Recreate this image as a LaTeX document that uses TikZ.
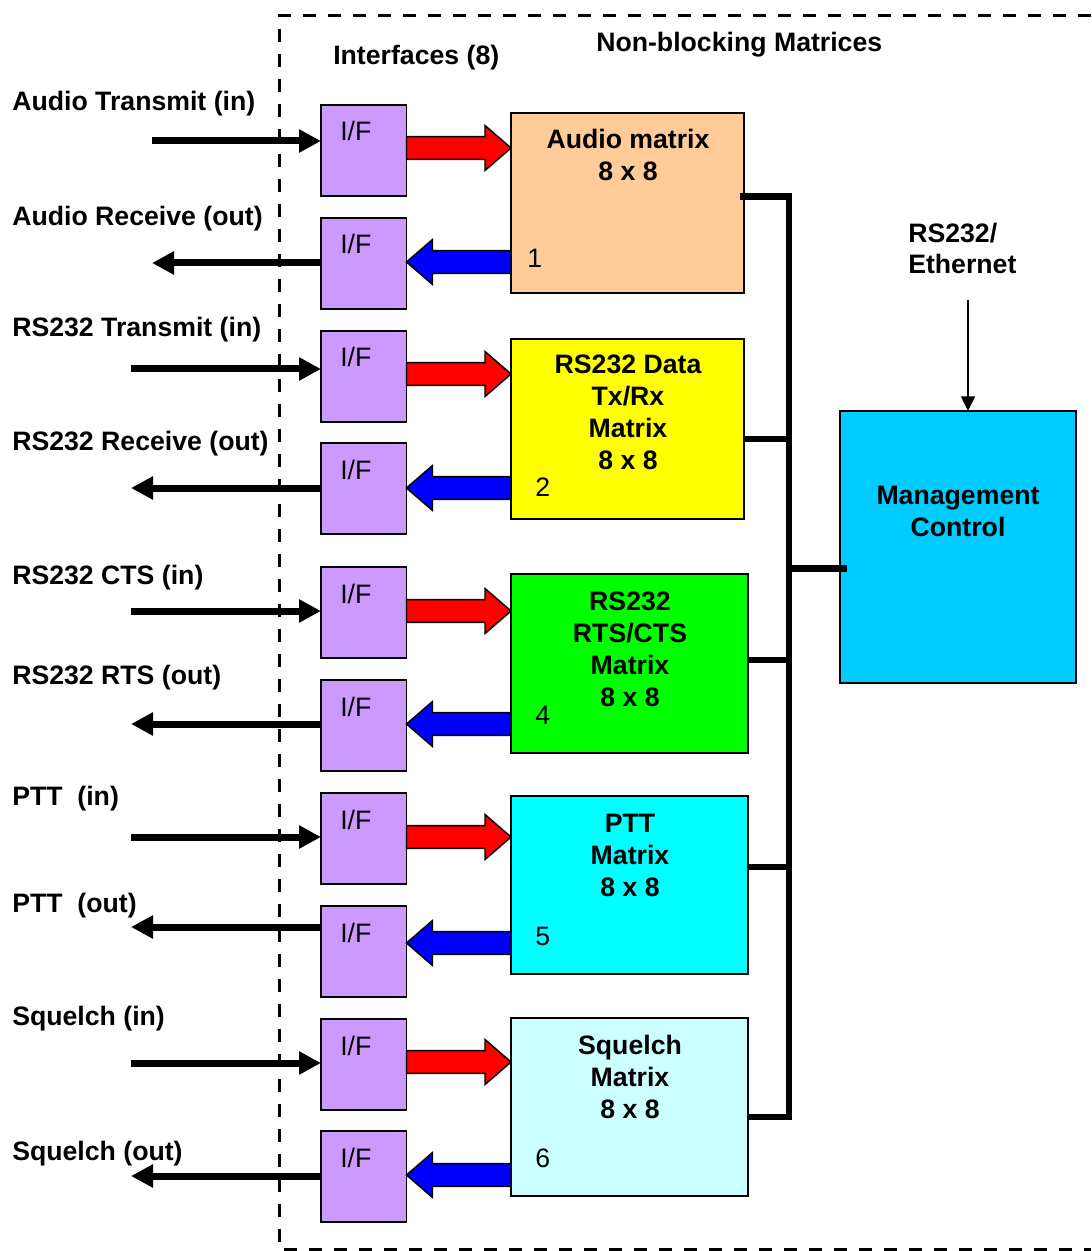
\documentclass[tikz,border=0pt]{standalone}
\usepackage{fontspec}
\setmainfont{Liberation Sans}
\usetikzlibrary{arrows.meta,calc}

\definecolor{ifpurple}{HTML}{CC99FF}
\definecolor{audiopeach}{HTML}{FFCC99}
\definecolor{datayellow}{HTML}{FFFF00}
\definecolor{ctsgreen}{HTML}{00FF00}
\definecolor{pttcyan}{HTML}{00FFFF}
\definecolor{sqlcyan}{HTML}{CCFFFF}
\definecolor{mgmtblue}{HTML}{00CCFF}
\definecolor{flowred}{HTML}{FF0000}
\definecolor{flowblue}{HTML}{0000FF}

% wide block arrow between two points (tip takes the y of the tail)
\newcommand{\bigflow}[3]{%
  \filldraw[flowline, fill=#3] let \p1=(#1), \p2=(#2), \n1={sign(\x2-\x1)} in
    (\x2,\y1) -- ({\x2-\n1*19.5pt},{\y1+16.875pt}) -- ({\x2-\n1*19.5pt},{\y1+8.5pt})
    -- (\x1,{\y1+8.5pt}) -- (\x1,{\y1-8.5pt}) -- ({\x2-\n1*19.5pt},{\y1-8.5pt})
    -- ({\x2-\n1*19.5pt},{\y1-16.875pt}) -- cycle;}

\begin{document}
\begin{tikzpicture}[x=0.75pt,y=-0.75pt,
  box/.style={draw=black, line width=1.1pt, inner sep=0pt, outer sep=0pt},
  ifbox/.style={box, fill=ifpurple, minimum width=85.5*0.75pt, minimum height=91*0.75pt},
  mbox/.style={box, minimum width=#1*0.75pt},
  lab/.style={font=\bfseries\fontsize{20}{24}\selectfont, inner sep=0pt},
  reg/.style={font=\fontsize{20}{24}\selectfont, inner sep=0pt},
  mtext/.style={lab, align=center, anchor=base},
  flowline/.style={draw=black, line width=1.1pt, line join=miter},
  sig/.style={line width=5.25pt, -{Triangle[length=16.5pt,width=16.5pt]}},
  feed/.style={line width=1.1pt, -{Triangle[length=11pt,width=10.5pt]}},
  bus/.style={line width=4.9pt, line join=miter},
  frame/.style={line width=2.5pt, dash pattern=on 9.75pt off 9pt}]

\useasboundingbox (0,0) rectangle (1091,1251);

% outer dashed boundary
\draw[frame] (1091,15.5) -- (279.5,15.5) -- (279.5,1249.5) -- (1091,1249.5);

% headings
\node[lab, anchor=base west] (hdmat) at (596,51.5) {Non-blocking Matrices};
\node[lab, anchor=base west] (hdif) at (333,65) {Interfaces (8)};

% interface blocks
\foreach \i/\yy in {1/150.5,2/263.5,3/376.5,4/488.5,5/612.5,6/725.5,7/838.5,8/951.5,9/1064.5,10/1176.5}{
  \node[ifbox] (if\i) at (363.75,\yy) {};
  \node[reg, anchor=base west] (ift\i) at ($(if\i.north west)+(19,36)$) {I/F};
}

% matrices
\node[mbox=233, minimum height=180*0.75pt, fill=audiopeach] (m1) at (627.5,203) {};
\node[mbox=233, minimum height=180*0.75pt, fill=datayellow] (m2) at (627.5,429) {};
\node[mbox=237, minimum height=179*0.75pt, fill=ctsgreen] (m3) at (629.5,663.5) {};
\node[mbox=237, minimum height=178*0.75pt, fill=pttcyan] (m4) at (629.5,885) {};
\node[mbox=237, minimum height=178*0.75pt, fill=sqlcyan] (m5) at (629.5,1107) {};
\node[mbox=236, minimum height=272*0.75pt, fill=mgmtblue] (mgmt) at (958,547) {};

% block titles (base anchor sits on the last line)
\node[mtext] (m1t) at (628,180.5) {Audio matrix\\8 x 8};
\node[mtext] (m2t) at (628,469) {RS232 Data\\Tx/Rx\\Matrix\\8 x 8};
\node[mtext] (m3t) at (630,706.5) {RS232\\RTS/CTS\\Matrix\\8 x 8};
\node[mtext] (m4t) at (630,896.5) {PTT\\Matrix\\8 x 8};
\node[mtext] (m5t) at (630,1118.5) {Squelch\\Matrix\\8 x 8};
\node[mtext] (mgt) at (958,536.5) {Management\\Control};

\node[reg, anchor=base west] (n1) at (527,267.5) {1};
\node[reg, anchor=base west] (n2) at (535,496) {2};
\node[reg, anchor=base west] (n4) at (535,724.5) {4};
\node[reg, anchor=base west] (n5) at (535,945.5) {5};
\node[reg, anchor=base west] (n6) at (535,1167) {6};

% external signal labels
\node[lab, anchor=base west] (l1) at (12,111) {Audio Transmit (in)};
\node[lab, anchor=base west] (l2) at (12,226) {Audio Receive (out)};
\node[lab, anchor=base west] (l3) at (12,337) {RS232 Transmit (in)};
\node[lab, anchor=base west] (l4) at (12,450) {RS232 Receive (out)};
\node[lab, anchor=base west] (l5) at (12,584) {RS232 CTS (in)};
\node[lab, anchor=base west] (l6) at (12,684) {RS232 RTS (out)};
\node[lab, anchor=base west] (l7) at (12,805) {PTT\ \ (in)};
\node[lab, anchor=base west] (l8) at (12,912) {PTT\ \ (out)};
\node[lab, anchor=base west] (l9) at (12,1025) {Squelch (in)};
\node[lab, anchor=base west] (l10) at (12,1160) {Squelch (out)};

% external signal arrows
\coordinate (in1) at (152,141);
\coordinate (in2) at (131,369);
\coordinate (in3) at (131,611);
\coordinate (in4) at (131,837);
\coordinate (in5) at (131,1063);
\coordinate (out1) at (152,263);
\coordinate (out2) at (131,488);
\coordinate (out3) at (131,724);
\coordinate (out4) at (131,927);
\coordinate (out5) at (131,1176);

\draw[sig] (in1) -- (if1.west |- in1);
\draw[sig] (in2) -- (if3.west |- in2);
\draw[sig] (in3) -- (if5.west |- in3);
\draw[sig] (in4) -- (if7.west |- in4);
\draw[sig] (in5) -- (if9.west |- in5);
\draw[sig] (if2.west |- out1) -- (out1);
\draw[sig] (if4.west |- out2) -- (out2);
\draw[sig] (if6.west |- out3) -- (out3);
\draw[sig] (if8.west |- out4) -- (out4);
\draw[sig] (if10.west |- out5) -- (out5);

% interface <-> matrix flows
\coordinate (rf1) at (0,148);  \coordinate (bf1) at (0,262);
\coordinate (rf2) at (0,374);  \coordinate (bf2) at (0,488);
\coordinate (rf3) at (0,611);  \coordinate (bf3) at (0,724);
\coordinate (rf4) at (0,837);  \coordinate (bf4) at (0,943);
\coordinate (rf5) at (0,1062); \coordinate (bf5) at (0,1175);

\bigflow{if1.east |- rf1}{m1.west}{flowred}
\bigflow{if3.east |- rf2}{m2.west}{flowred}
\bigflow{if5.east |- rf3}{m3.west}{flowred}
\bigflow{if7.east |- rf4}{m4.west}{flowred}
\bigflow{if9.east |- rf5}{m5.west}{flowred}
\bigflow{m1.west |- bf1}{if2.east}{flowblue}
\bigflow{m2.west |- bf2}{if4.east}{flowblue}
\bigflow{m3.west |- bf3}{if6.east}{flowblue}
\bigflow{m4.west |- bf4}{if8.east}{flowblue}
\bigflow{m5.west |- bf5}{if10.east}{flowblue}

% control bus
\coordinate (bu1) at (789,196.5);
\coordinate (bu2) at (789,439);
\coordinate (bu3) at (789,660);
\coordinate (bu4) at (789,867);
\coordinate (bu5) at (789,1117);
\coordinate (bum) at (789,568.5);

\draw[bus] ($(m1.east |- bu1)+(-4,0)$) -- (bu1) -- (bu5) -- (m5.east |- bu5);
\draw[bus] (m2.east |- bu2) -- (bu2);
\draw[bus] (m3.east |- bu3) -- (bu3);
\draw[bus] (m4.east |- bu4) -- (bu4);
\draw[bus] (bum) -- ($(mgmt.west |- bum)+(7,0)$);

% management access
\node[lab, align=left, anchor=base west, font=\bfseries\fontsize{20}{23.5}\selectfont] (eth) at (908,274) {RS232/\\Ethernet};
\coordinate (ethin) at (968,300);
\draw[feed] (ethin) -- (mgmt.north -| ethin);

\end{tikzpicture}
\end{document}
